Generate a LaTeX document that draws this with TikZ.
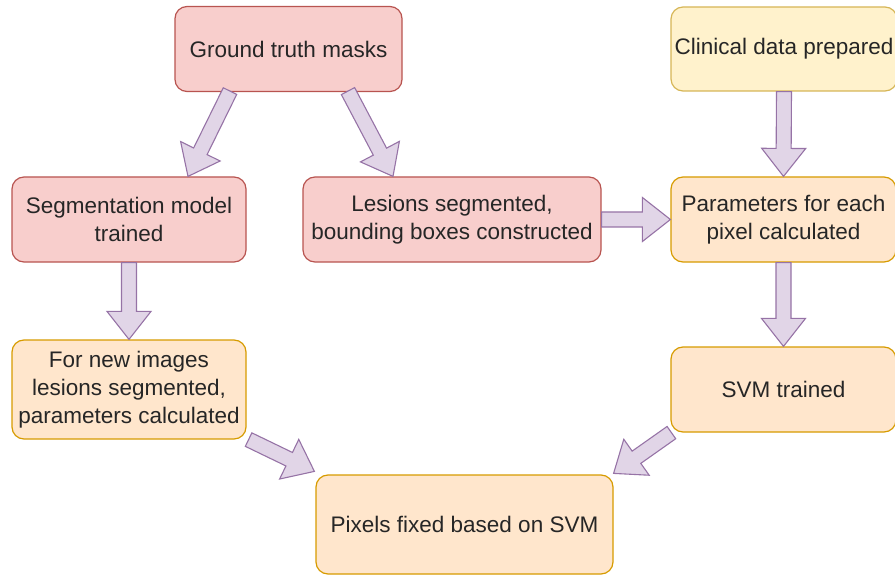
\documentclass[tikz,border=0pt]{standalone}
\usepackage{fontspec}
\setmainfont{Liberation Sans}
\usepackage{tikz}
\usetikzlibrary{calc}
\definecolor{redFill}{HTML}{F8CECC}
\definecolor{redDraw}{HTML}{B85450}
\definecolor{yellowFill}{HTML}{FFF2CC}
\definecolor{yellowDraw}{HTML}{D6B656}
\definecolor{orangeFill}{HTML}{FFE6CC}
\definecolor{orangeDraw}{HTML}{D79B00}
\definecolor{purpleFill}{HTML}{E1D5E7}
\definecolor{purpleDraw}{HTML}{9673A6}
\tikzstyle{redBox} = [rectangle, rounded corners=12pt, minimum height=85pt, align=center, draw=redDraw, line width=1.2pt, fill=redFill, text=black!85, font=\fontsize{22.5}{28}\selectfont, inner sep=2pt]
\tikzstyle{yellowBox} = [rectangle, rounded corners=12pt, minimum height=84pt, align=center, draw=yellowDraw, line width=1.2pt, fill=yellowFill, text=black!85, font=\fontsize{22.5}{28}\selectfont, inner sep=2pt]
\tikzstyle{orangeBox} = [rectangle, rounded corners=12pt, minimum height=85pt, align=center, draw=orangeDraw, line width=1.2pt, fill=orangeFill, text=black!85, font=\fontsize{22.5}{28}\selectfont, inner sep=2pt]
\tikzstyle{flexArrowStyle} = [draw=purpleDraw, fill=purpleFill, line width=1.1pt, line join=miter]
% block arrow from #1 to #2
\newcommand{\flexArrow}[2]{%
  \path (#1) coordinate (faS) (#2) coordinate (faE);
  \coordinate (faC) at ($(faE)!28pt!(faS)$);
  \draw [flexArrowStyle] ($(faS)!7.5pt!90:(faE)$) -- ($(faC)!7.5pt!-90:(faS)$) -- ($(faC)!22pt!-90:(faS)$) -- (faE) -- ($(faC)!22pt!90:(faS)$) -- ($(faC)!7.5pt!90:(faS)$) -- ($(faS)!7.5pt!-90:(faE)$) -- cycle;
}
\begin{document}
\begin{tikzpicture}[node distance=170pt]
\useasboundingbox (0pt,0pt) rectangle (895pt,-575pt);

\node (gtMasks) [redBox, minimum width=227pt] at (288.5pt,-49pt) {Ground truth masks};
\node (clinical) [yellowBox, minimum width=226pt, right of=gtMasks, xshift=325.5pt] {Clinical data prepared};
\node (segModel) [redBox, minimum width=234pt, below of=gtMasks, xshift=-159.5pt, yshift=-0.5pt] {Segmentation model\\trained};
\node (lesions) [redBox, minimum width=298pt, below of=gtMasks, xshift=163.5pt, yshift=-0.5pt] {Lesions segmented,\\bounding boxes constructed};
\node (params) [orangeBox, minimum width=225pt, below of=clinical, xshift=-0.5pt, yshift=-0.5pt] {Parameters for each\\pixel calculated};
\node (newImages) [orangeBox, minimum width=234pt, minimum height=99pt, below of=segModel] {For new images\\lesions segmented,\\parameters calculated};
\node (svm) [orangeBox, minimum width=225pt, below of=params] {SVM trained};
\node (pixels) [orangeBox, minimum width=297pt, minimum height=99pt, below of=lesions, xshift=12.5pt, yshift=-135pt] {Pixels fixed based on SVM};

\flexArrow{[xshift=-58.5pt,yshift=1pt]gtMasks.south}{[xshift=59pt]segModel.north}
\flexArrow{[xshift=59.5pt,yshift=1pt]gtMasks.south}{[xshift=-59pt]lesions.north}
\flexArrow{clinical.south}{params.north}
\flexArrow{lesions.east}{params.west}
\flexArrow{segModel.south}{newImages.north}
\flexArrow{params.south}{svm.north}
\flexArrow{[xshift=2pt]newImages.south east}{[xshift=-1pt,yshift=3pt]pixels.north west}
\flexArrow{[xshift=1pt]svm.south west}{[yshift=1pt]pixels.north east}
\end{tikzpicture}
\end{document}
